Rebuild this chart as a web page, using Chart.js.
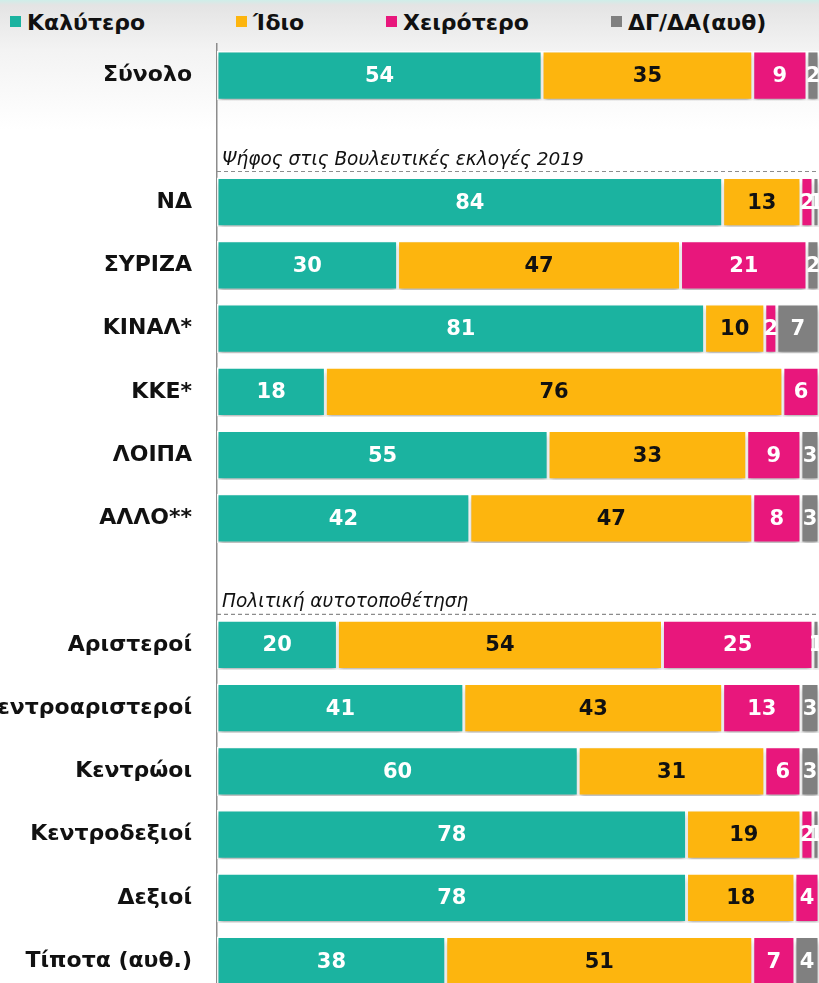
<!DOCTYPE html>
<html>
<head>
<meta charset="utf-8">
<script src="https://cdn.jsdelivr.net/npm/chart.js@4"></script>
<style>
  html, body { margin: 0; padding: 0; }
  body {
    width: 819px; height: 983px; overflow: hidden; position: relative;
    background: linear-gradient(to bottom, #cfeee9 0px, #e4e4e4 5px, #f3f3f3 50px, #ffffff 130px);
    font-family: "DejaVu Sans", sans-serif;
  }
  #legend { position: absolute; top: 0; left: 0; width: 819px; height: 44px; }
  .item { position: absolute; top: 10px; font-weight: bold; font-size: 22px; color: #111; white-space: nowrap; }
  .item span { display: inline-block; width: 11px; height: 11px; margin-right: 6px; vertical-align: 3px; }
  #chart { position: absolute; top: 0; left: 0; }
</style>
</head>
<body>
<div id="legend"></div>
<canvas id="chart" width="819" height="1023"></canvas>
<script>
const categories = ['Σύνολο', '', 'ΝΔ', 'ΣΥΡΙΖΑ', 'ΚΙΝΑΛ*', 'ΚΚΕ*', 'ΛΟΙΠΑ', 'ΑΛΛΟ**', '',
  'Αριστεροί', 'Κεντροαριστεροί', 'Κεντρώοι', 'Κεντροδεξιοί', 'Δεξιοί', 'Τίποτα (αυθ.)'];
const better = [54, null, 84, 30, 81, 18, 55, 42, null, 20, 41, 60, 78, 78, 38];
const same   = [35, null, 13, 47, 10, 76, 33, 47, null, 54, 43, 31, 19, 18, 51];
const worse  = [9, null, 2, 21, 2, 6, 9, 8, null, 25, 13, 6, 2, 4, 7];
const dkna   = [2, null, 1, 2, 7, 0, 3, 3, null, 1, 3, 3, 1, 0, 4];
const seriesNames = ['Καλύτερο', 'Ίδιο', 'Χειρότερο', 'ΔΓ/ΔΑ(αυθ)'];
const sectionRows = [1, 8];
const sectionTitles = ['Ψήφος στις Βουλευτικές εκλογές 2019', 'Πολιτική αυτοτοποθέτηση'];

const colors = ['#1bb3a0', '#fdb50e', '#e8177c', '#808080'];
const labelColors = ['#ffffff', '#111111', '#ffffff', '#ffffff'];
const legendLeft = [10, 236, 386, 611];

const legend = document.getElementById('legend');
seriesNames.forEach((name, i) => {
  const d = document.createElement('div');
  d.className = 'item';
  d.style.left = legendLeft[i] + 'px';
  d.innerHTML = '<span style="background:' + colors[i] + '"></span>' + name;
  legend.appendChild(d);
});

const shadowPlugin = {
  id: 'shadow',
  beforeDatasetsDraw(chart) {
    const ctx = chart.ctx;
    ctx.save();
    ctx.shadowColor = 'rgba(0,0,0,0.28)';
    ctx.shadowBlur = 5;
    ctx.shadowOffsetY = 4;
  },
  afterDatasetsDraw(chart) {
    chart.ctx.restore();
  }
};

const valuePlugin = {
  id: 'values',
  afterDatasetsDraw(chart) {
    const ctx = chart.ctx;
    ctx.save();
    ctx.font = 'bold 21px "DejaVu Sans"';
    ctx.textAlign = 'center';
    ctx.textBaseline = 'middle';
    chart.data.datasets.forEach((ds, di) => {
      const meta = chart.getDatasetMeta(di);
      meta.data.forEach((bar, i) => {
        const v = ds.data[i];
        if (v === null || v === 0) return;
        ctx.fillStyle = labelColors[di];
        ctx.fillText(String(v), (bar.x + bar.base) / 2, bar.y + 1);
      });
    });
    ctx.restore();
  }
};

const sectionPlugin = {
  id: 'sections',
  afterDraw(chart) {
    const ctx = chart.ctx;
    const y = chart.scales.y;
    const step = y.getPixelForValue(1) - y.getPixelForValue(0);
    ctx.save();
    sectionRows.forEach((row, k) => {
      const lineY = y.getPixelForValue(row) + step / 2 + 1;
      ctx.strokeStyle = '#8c8c8c';
      ctx.lineWidth = 1.2;
      ctx.setLineDash([4, 3]);
      ctx.beginPath();
      ctx.moveTo(chart.chartArea.left, lineY);
      ctx.lineTo(chart.chartArea.right, lineY);
      ctx.stroke();
      ctx.font = 'italic 18.5px "DejaVu Sans"';
      ctx.fillStyle = '#111';
      ctx.textAlign = 'left';
      ctx.textBaseline = 'alphabetic';
      ctx.fillText(sectionTitles[k], chart.chartArea.left + 5, lineY - 7);
    });
    ctx.restore();
  }
};

new Chart(document.getElementById('chart'), {
  type: 'bar',
  data: {
    labels: categories,
    datasets: [better, same, worse, dkna].map((d, i) => ({
      label: seriesNames[i],
      data: d,
      backgroundColor: colors[i],
      borderColor: '#ffffff',
      borderWidth: 1.5,
      borderSkipped: false,
      barPercentage: 0.78,
      categoryPercentage: 1
    }))
  },
  options: {
    indexAxis: 'y',
    responsive: false,
    animation: false,
    layout: { padding: { top: 44, right: 0, bottom: 0, left: 0 } },
    plugins: { legend: { display: false }, tooltip: { enabled: false } },
    scales: {
      x: { stacked: true, min: 0, max: 100, display: false },
      y: {
        stacked: true,
        grid: { display: false },
        border: { color: '#8c8c8c', width: 1.5 },
        ticks: { color: '#111', padding: 17, font: { family: 'DejaVu Sans', size: 22, weight: 'bold' } },
        afterFit(scale) { scale.width = 217; }
      }
    }
  },
  plugins: [shadowPlugin, valuePlugin, sectionPlugin]
});
</script>
</body>
</html>
